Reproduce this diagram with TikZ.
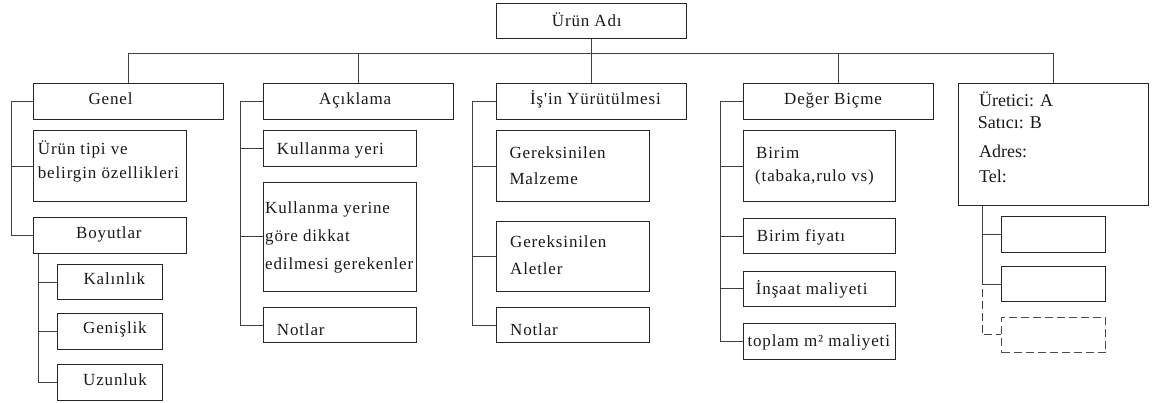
\documentclass[tikz,border=0pt]{standalone}
\usepackage{fontspec}
\setmainfont{Liberation Serif}[LetterSpace=5,Ligatures=TeXOff]
\newfontfamily\plainserif{Liberation Serif}
\begin{document}
\begin{tikzpicture}[x=1pt,y=1pt,
  box/.style={draw=black!85,line width=1pt,inner sep=0pt,anchor=north west,rectangle},
  dbox/.style={box,draw=black!70,dash pattern=on 8pt off 4pt},
  txt/.style={inner sep=0pt,anchor=base west,font=\fontsize{17}{20}\selectfont,text=black!90},
  ptxt/.style={inner sep=0pt,anchor=base west,font=\plainserif\fontsize{18}{20}\selectfont,text=black!90},
  link/.style={draw=black!75,line width=1pt},
  dlink/.style={link,dash pattern=on 8pt off 4pt}]
\useasboundingbox (0,0) rectangle (1152,-402);

% ---- boxes ----
\node[box,minimum width=190.3pt,minimum height=35pt] (root) at (495.7,-3) {};
\node[box,minimum width=190pt,minimum height=35.7pt] (genel) at (33,-83.3) {};
\node[box,minimum width=190pt,minimum height=35.7pt] (acik) at (263,-83.3) {};
\node[box,minimum width=190.3pt,minimum height=35.7pt] (isin) at (495.7,-83.3) {};
\node[box,minimum width=190pt,minimum height=35.7pt] (deger) at (742.7,-83.3) {};
\node[box,minimum width=190pt,minimum height=121.7pt] (uret) at (958,-83.3) {};

\node[box,minimum width=153pt,minimum height=71pt] (urun) at (33,-130) {};
\node[box,minimum width=153pt,minimum height=36pt] (boyut) at (33,-217) {};
\node[box,minimum width=105pt,minimum height=35.3pt] (kal) at (57,-264) {};
\node[box,minimum width=105pt,minimum height=36pt] (gen) at (57,-313) {};
\node[box,minimum width=105pt,minimum height=36pt] (uzun) at (57,-364) {};

\node[box,minimum width=153pt,minimum height=35.7pt] (kyeri) at (263,-130) {};
\node[box,minimum width=153pt,minimum height=109.3pt] (kyerine) at (263,-181.7) {};
\node[box,minimum width=153pt,minimum height=35pt] (nota) at (263,-307) {};

\node[box,minimum width=153pt,minimum height=71pt] (malz) at (495.7,-130) {};
\node[box,minimum width=153pt,minimum height=70.3pt] (alet) at (495.7,-220.7) {};
\node[box,minimum width=153pt,minimum height=35pt] (noti) at (495.7,-307) {};

\node[box,minimum width=152.6pt,minimum height=71pt] (birim) at (742.7,-130) {};
\node[box,minimum width=152.6pt,minimum height=35pt] (bfiyat) at (742.7,-218) {};
\node[box,minimum width=152.6pt,minimum height=35.3pt] (insaat) at (742.7,-270.7) {};
\node[box,minimum width=152.6pt,minimum height=35.7pt] (toplam) at (742.7,-323) {};

\node[box,minimum width=104pt,minimum height=35.4pt] (e1) at (1001.3,-216.3) {};
\node[box,minimum width=104pt,minimum height=35.3pt] (e2) at (1001.3,-266) {};
\node[dbox,minimum width=104pt,minimum height=35.3pt] (e3) at (1001.3,-316.7) {};

% ---- texts ----
\node[txt] (troot) at (551.7,-26) {Ürün Adı};
\node[txt] (tgenel) at (88.3,-104) {Genel};
\node[txt] (tacik) at (319,-104) {Açıklama};
\node[txt] (tisin) at (530,-104.5) {İş'in Yürütülmesi};
\node[txt] (tdeger) at (784,-104) {Değer Biçme};

\node[ptxt] (tur1) at (979,-106) {Üretici: A};
\node[ptxt] (tur2) at (977.7,-128.3) {Satıcı: B};
\node[ptxt] (tur3) at (979,-157.3) {Adres:};
\node[ptxt] (tur4) at (979,-182.7) {Tel:};

\node[txt] (turun1) at (37.7,-154) {Ürün tipi ve};
\node[txt] (turun2) at (37.7,-178) {belirgin özellikleri};
\node[txt] (tboyut) at (76,-238.3) {Boyutlar};
\node[txt] (tkal) at (83.3,-284.3) {Kalınlık};
\node[txt] (tgen) at (83,-333) {Genişlik};
\node[txt] (tuzun) at (83,-385) {Uzunluk};

\node[txt] (tkyeri) at (276.7,-154) {Kullanma yeri};
\node[txt] (tky1) at (265,-213.3) {Kullanma yerine};
\node[txt] (tky2) at (265,-241) {göre dikkat};
\node[txt] (tky3) at (265,-269) {edilmesi gerekenler};
\node[txt] (tnota) at (276.7,-335) {Notlar};

\node[txt] (tmalz1) at (509.3,-158.3) {Gereksinilen};
\node[txt] (tmalz2) at (509.3,-184.3) {Malzeme};
\node[txt] (talet1) at (510,-247.7) {Gereksinilen};
\node[txt] (talet2) at (510,-274) {Aletler};
\node[txt] (tnoti) at (510,-335) {Notlar};

\node[txt] (tbirim1) at (756,-158.3) {Birim};
\node[txt] (tbirim2) at (755,-181.7) {(tabaka,rulo vs)};
\node[txt] (tbfiyat) at (756.7,-241.7) {Birim fiyatı};
\node[txt] (tinsaat) at (755.7,-294.3) {İnşaat maliyeti};
\node[txt] (ttoplam) at (747.3,-346.7) {toplam m² maliyeti};

% ---- connectors ----
\coordinate (bus) at (0,-53.5);
\draw[link] (root.south) -- (root.south |- bus);
\draw[link] (genel.north) -- (genel.north |- bus) -- (uret.north |- bus) -- (uret.north);
\draw[link] (acik.north) -- (acik.north |- bus);
\draw[link] (isin.north) -- (isin.north |- bus);
\draw[link] (deger.north) -- (deger.north |- bus);

% Genel branch
\draw[link] (genel.west) -- ++(-21.3,0) |- (boyut.west);
\draw[link] (urun.west) -- ++(-21.3,0);
\draw[link] ([xshift=5.7pt]boyut.south west) |- (uzun.west);
\draw[link] (kal.west) -- ++(-18.3,0);
\draw[link] (gen.west) -- ++(-18.3,0);

% Açıklama branch
\draw[link] (acik.west) -- ++(-23,0) |- (nota.west);
\draw[link] (kyeri.west) -- ++(-23,0);
\draw[link] (kyerine.west) -- ++(-23,0);

% İş'in Yürütülmesi branch
\draw[link] (isin.west) -- ++(-23,0) |- (noti.west);
\draw[link] (malz.west) -- ++(-23,0);
\draw[link] (alet.west) -- ++(-23,0);

% Değer Biçme branch
\draw[link] (deger.west) -- ++(-22.7,0) |- (toplam.west);
\draw[link] (birim.west) -- ++(-22.7,0);
\draw[link] (bfiyat.west) -- ++(-22.7,0);
\draw[link] (insaat.west) -- ++(-22.7,0);

% Üretici branch
\coordinate (ubus) at ([xshift=24pt]uret.south west);
\draw[link] (ubus) |- (e2.west);
\draw[link] (e1.west) -- (e1.west -| ubus);
\draw[dlink] ([yshift=-5pt]ubus |- e2.west) |- (e3.west);
\end{tikzpicture}
\end{document}
